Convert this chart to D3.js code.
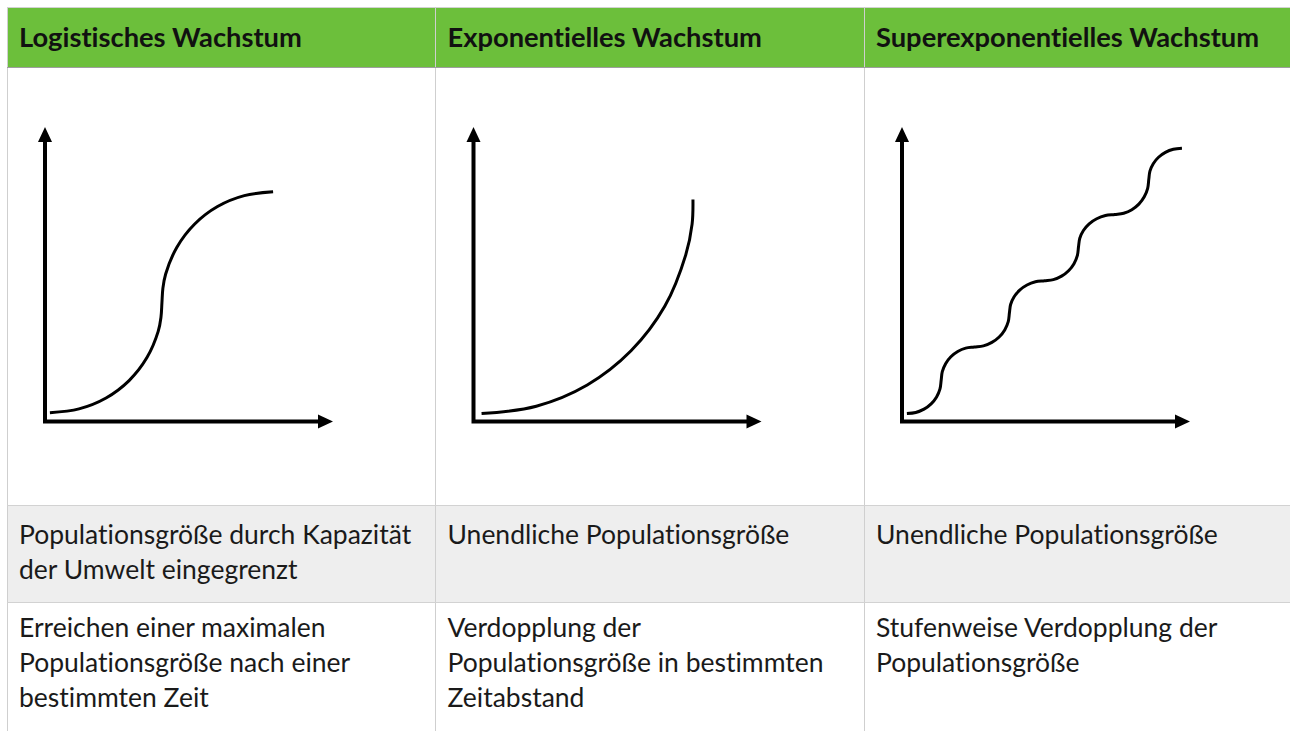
<!DOCTYPE html>
<html>
<head>
<meta charset="utf-8">
<script src="https://cdn.jsdelivr.net/npm/d3@7"></script>
<style>
  html, body { margin: 0; padding: 0; background: #ffffff; }
  svg { display: block; }
  svg text { font-variant-ligatures: none; font-feature-settings: "liga" 0, "clig" 0; }
</style>
</head>
<body>
<div id="chart"></div>
<script>
// ---------------- data ----------------
const headers = ["Logistisches Wachstum", "Exponentielles Wachstum", "Superexponentielles Wachstum"];

const capacityTexts = [
  ["Populationsgröße durch Kapazität", "der Umwelt eingegrenzt"],
  ["Unendliche Populationsgröße"],
  ["Unendliche Populationsgröße"]
];

const growthTexts = [
  ["Erreichen einer maximalen", "Populationsgröße nach einer", "bestimmten Zeit"],
  ["Verdopplung der", "Populationsgröße in bestimmten", "Zeitabstand"],
  ["Stufenweise Verdopplung der", "Populationsgröße"]
];

// curve points in schematic units (0..100 on both axes)
const logisticCurve = [
  [1.7, 3.0], [11.8, 4.3], [21.2, 8.0], [29.2, 13.9], [35.4, 21.7], [39.3, 30.6], [40.27, 35.43], [40.6, 40.3],
  [40.93, 45.2], [41.9, 50.1], [45.8, 59.2], [51.9, 67.0], [59.9, 73.0], [69.2, 76.7], [79.2, 78.0]
];

const exponentialCurve = [
  [2.8, 2.7], [21.8, 5.2], [39.5, 12.4], [54.7, 24.0], [66.4, 39.1], [73.7, 56.6], [75.9, 67.0], [76.2, 75.4]
];

const superExponentialCurve = [
  [1.7, 2.7], [4.78, 3.08], [7.65, 4.21], [10.11, 6.01], [12.01, 8.35], [13.19, 11.07], [13.6, 14.0],
  [13.99, 16.93], [15.14, 19.65], [16.97, 21.99], [19.35, 23.79], [22.12, 24.92], [25.1, 25.3],
  [28.26, 25.69], [31.2, 26.85], [33.73, 28.7], [35.67, 31.1], [36.89, 33.9], [37.3, 36.9],
  [37.71, 39.72], [38.93, 42.35], [40.87, 44.61], [43.4, 46.34], [46.34, 47.43], [49.5, 47.8],
  [52.56, 48.19], [55.4, 49.35], [57.84, 51.2], [59.72, 53.6], [60.9, 56.4], [61.3, 59.4],
  [61.73, 62.22], [62.99, 64.85], [64.99, 67.11], [67.6, 68.84], [70.64, 69.93], [73.9, 70.3],
  [76.96, 70.71], [79.8, 71.91], [82.24, 73.82], [84.12, 76.3], [85.3, 79.19], [85.7, 82.3],
  [86.09, 85.02], [87.24, 87.55], [89.07, 89.72], [91.45, 91.39], [94.22, 92.44], [97.2, 92.8]
];

const curves = [logisticCurve, exponentialCurve, superExponentialCurve];
const axisDomain = [0, 100];

// ---------------- layout ----------------
const W = 1290, H = 731;
const tableLeft = 7, tableTop = 7;
const colW = 428.5;
const headerH = 60;
const diagramBottom = 505.5;
const row1Bottom = 602.5;
const tableBottom = 760;

const green = "#6cbf3b";
const gray = "#eeeeee";
const borderC = "#d2d2d2";
const fontFamily = "Lato, 'Noto Sans', sans-serif";

const svg = d3.select("#chart").append("svg")
  .attr("width", W).attr("height", H);

const colX = d3.range(3).map(i => tableLeft + i * colW);

// backgrounds
svg.append("rect").attr("x", tableLeft).attr("y", tableTop)
  .attr("width", colW * 3).attr("height", headerH).attr("fill", green);
svg.append("rect").attr("x", tableLeft).attr("y", diagramBottom)
  .attr("width", colW * 3).attr("height", row1Bottom - diagramBottom).attr("fill", gray);

// grid lines
const g = svg.append("g").attr("shape-rendering", "crispEdges");
g.append("line").attr("x1", tableLeft).attr("x2", W).attr("y1", tableTop).attr("y2", tableTop)
  .attr("stroke", borderC).attr("stroke-width", 1);
[tableLeft, colX[1], colX[2]].forEach(x => {
  g.append("line").attr("x1", x).attr("x2", x).attr("y1", tableTop).attr("y2", tableBottom)
    .attr("stroke", "#cfcfcf").attr("stroke-width", 1);
});
g.append("line").attr("x1", tableLeft).attr("x2", W).attr("y1", tableTop + headerH).attr("y2", tableTop + headerH)
  .attr("stroke", "#9e9e9e").attr("stroke-width", 1);
[diagramBottom, row1Bottom].forEach(y => {
  g.append("line").attr("x1", tableLeft).attr("x2", W).attr("y1", y).attr("y2", y)
    .attr("stroke", borderC).attr("stroke-width", 1.5);
});

// header text
svg.selectAll("text.header").data(headers).join("text")
  .attr("class", "header")
  .attr("x", (d, i) => colX[i] + 12)
  .attr("y", 47)
  .attr("font-family", fontFamily)
  .attr("font-weight", 700)
  .attr("font-size", 27.3)
  .attr("fill", "#111")
  .text(d => d);

// body texts
function drawLines(data, firstBaseline, lineH, cls) {
  const grp = svg.selectAll("g." + cls).data(data).join("g").attr("class", cls);
  grp.selectAll("text").data((d, i) => d.map(t => ({ t, i }))).join("text")
    .attr("x", d => colX[d.i] + 12)
    .attr("y", (d, j) => firstBaseline + j * lineH)
    .attr("font-family", fontFamily)
    .attr("font-size", 26.5)
    .attr("fill", "#1a1a1a")
    .text(d => d.t);
}
drawLines(capacityTexts, 544, 34.5, "cap");
drawLines(growthTexts, 637, 35, "grow");

// diagrams
const axisY0 = 421.5, axisYTop = 127;
curves.forEach((pts, i) => {
  const x = d3.scaleLinear().domain(axisDomain).range([colX[i] + 38, colX[i] + 326]);
  const y = d3.scaleLinear().domain(axisDomain).range([axisY0, axisYTop]);
  const pg = svg.append("g");
  const ox = x(axisDomain[0]), oy = y(axisDomain[0]);
  const xe = x(axisDomain[1]), ye = y(axisDomain[1]);
  const ah = 15, aw = 7;
  pg.append("path")
    .attr("d", `M${ox},${ye + ah - 1}V${oy}H${xe - ah + 1}`)
    .attr("fill", "none").attr("stroke", "#000").attr("stroke-width", 4)
    .attr("stroke-linejoin", "miter").attr("stroke-linecap", "butt");
  pg.append("path")
    .attr("d", `M${ox},${ye}L${ox - aw},${ye + ah}L${ox + aw},${ye + ah}Z`).attr("fill", "#000");
  pg.append("path")
    .attr("d", `M${xe},${oy}L${xe - ah},${oy - aw}L${xe - ah},${oy + aw}Z`).attr("fill", "#000");

  const line = d3.line().x(d => x(d[0])).y(d => y(d[1])).curve(d3.curveCatmullRom.alpha(0.5));
  pg.append("path").datum(pts).attr("d", line)
    .attr("fill", "none").attr("stroke", "#000").attr("stroke-width", 3)
    .attr("stroke-linecap", "butt");
});
</script>
</body>
</html>
